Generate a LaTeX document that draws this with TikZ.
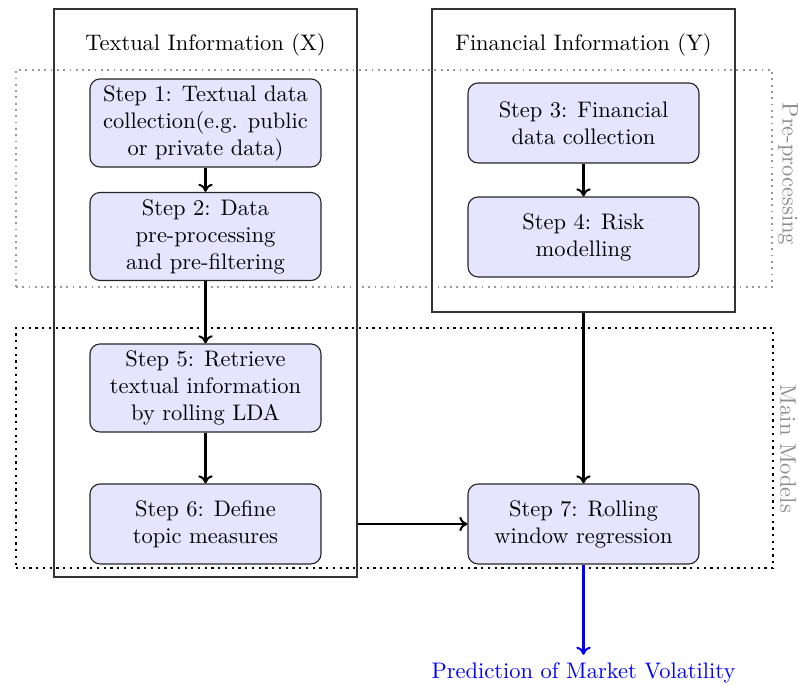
\documentclass[tikz,border=0pt]{standalone}
\usetikzlibrary{arrows.meta}
\begin{document}
\begin{tikzpicture}[x=0.445pt,y=-0.445pt,
  stepbox/.style={draw=black!85, fill=blue!10, rounded corners=4.5pt, align=center,
    minimum width=102.8pt, minimum height=35.6pt, inner sep=2pt, line width=0.5pt},
  tallstep/.style={stepbox, minimum height=39.2pt},
  frame/.style={draw=black!80, line width=0.5pt, inner sep=0pt},
  phase/.style={dotted, inner sep=0pt},
  phaselabel/.style={rotate=-90, text=black!45},
  flow/.style={-{To[length=3.6pt,width=6.4pt]}, line width=0.9pt},
  outflow/.style={flow, draw=blue}]
\useasboundingbox (0,0) rectangle (798,686);

% phase regions
\node[phase, draw=black!40, line width=0.8pt, minimum width=336.4pt, minimum height=96.6pt] (pre) at (394,178.5) {};
\node[phase, draw=black, line width=1pt, minimum width=336.9pt, minimum height=106.8pt] (main) at (394.5,448) {};
\node[phaselabel] (prelabel) at (788,174) {Pre-processing};
\node[phaselabel] (mainlabel) at (788,449) {Main Models};

% information frames
\node[frame, minimum width=134.8pt, minimum height=252.8pt] (tx) at (205.5,293) {};
\node[frame, minimum width=134.8pt, minimum height=134.8pt] (fi) at (583.5,160.5) {};
\node (txtitle) at (205.5,45) {Textual Information (X)};
\node (fititle) at (583.5,45) {Financial Information (Y)};

% steps
\node[tallstep] (s1) at (205.5,123) {Step 1: Textual data\\collection(e.g. public\\or private data)};
\node[tallstep] (s2) at (205.5,236.5) {Step 2: Data\\pre-processing\\and pre-filtering};
\node[stepbox] (s3) at (583.5,123) {Step 3: Financial\\data collection};
\node[stepbox] (s4) at (583.5,237) {Step 4: Risk\\modelling};
\node[tallstep] (s5) at (205.5,388) {Step 5: Retrieve\\textual information\\by rolling LDA};
\node[stepbox] (s6) at (205.5,524) {Step 6: Define\\topic measures};
\node[stepbox] (s7) at (583.5,524) {Step 7: Rolling\\window regression};

\node[text=blue] (pred) at (583.5,673) {Prediction of Market Volatility};

% connectors
\draw[flow] (s1) -- (s2);
\draw[flow] (s2) -- (s5);
\draw[flow] (s5) -- (s6);
\draw[flow] (s3) -- (s4);
\draw[flow] (fi.south) -- (s7.north);
\draw[flow] (tx.east |- s7.west) -- (s7.west);
\draw[outflow] (s7) -- (pred);
\end{tikzpicture}
\end{document}
